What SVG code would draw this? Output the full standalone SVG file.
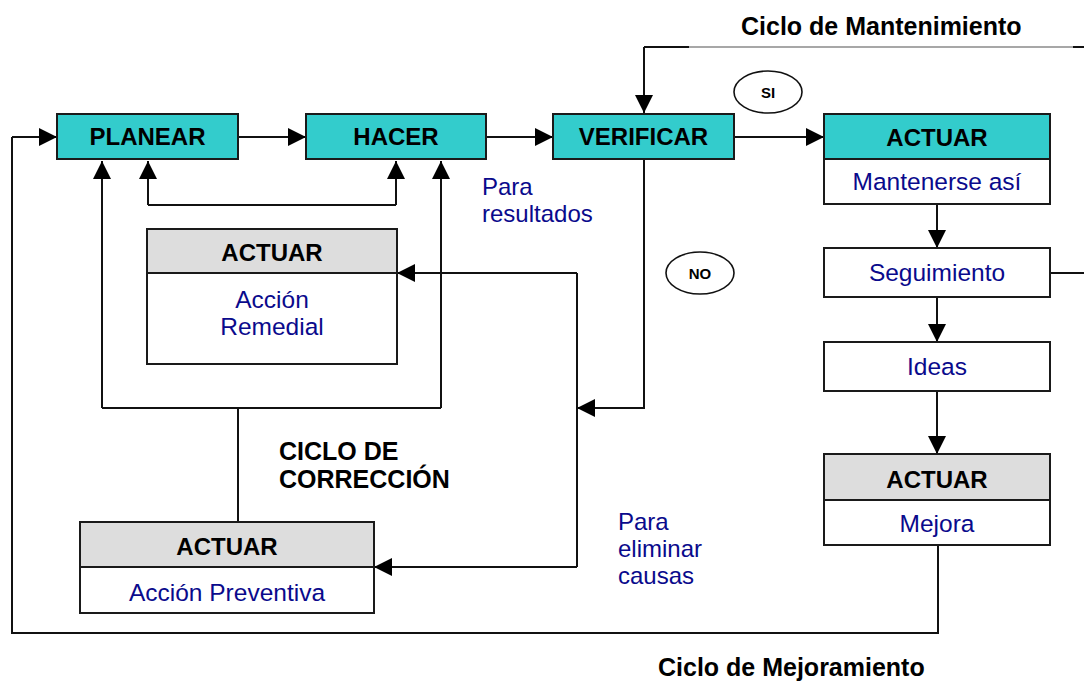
<svg xmlns="http://www.w3.org/2000/svg" width="1084" height="683" viewBox="0 0 1084 683">
<style>
.teal{fill:#33CCCC;stroke:#1a1a1a;stroke-width:2}
.gray{fill:#DDDDDD;stroke:#1a1a1a;stroke-width:2}
.white{fill:#FFFFFF;stroke:#1a1a1a;stroke-width:2}
.lbl{font-family:"Liberation Sans",Arial,sans-serif;font-size:24px;font-weight:bold;fill:#000;text-anchor:middle}
.blue{font-family:"Liberation Sans",Arial,sans-serif;font-size:24.5px;fill:#0a0a8c;text-anchor:middle}
.bluel{font-family:"Liberation Sans",Arial,sans-serif;font-size:24px;fill:#0a0a8c}
.title{font-family:"Liberation Sans",Arial,sans-serif;font-size:25px;font-weight:bold;fill:#000}
.small{font-family:"Liberation Sans",Arial,sans-serif;font-size:15px;font-weight:bold;fill:#000;text-anchor:middle}
.ln{fill:none;stroke:#111;stroke-width:2}
.arr{fill:none;stroke:#111;stroke-width:2;marker-end:url(#ah)}
</style>
<defs>
<marker id="ah" markerWidth="18" markerHeight="18" refX="18" refY="9" orient="auto" markerUnits="userSpaceOnUse">
<path d="M0,0 L18,9 L0,18 Z" fill="#000"/>
</marker>
</defs>
<rect width="1084" height="683" fill="#fff"/>

<g id="connectors">
<line class="arr" x1="238" y1="137" x2="306" y2="137"/>
<line class="arr" x1="486" y1="137" x2="553" y2="137"/>
<line class="arr" x1="734" y1="137" x2="824" y2="137"/>
<polyline class="ln" points="938,545 938,633 12,633 12,137"/>
<line class="arr" x1="12" y1="137" x2="57" y2="137"/>
<polyline class="ln" points="148,205 396,205"/>
<line class="arr" x1="148" y1="205" x2="148" y2="161"/>
<line class="arr" x1="396" y1="205" x2="396" y2="161"/>
<polyline class="ln" points="102,408 441,408"/>
<line class="arr" x1="102" y1="408" x2="102" y2="161"/>
<line class="arr" x1="441" y1="408" x2="441" y2="161"/>
<line class="ln" x1="238" y1="408" x2="238" y2="522"/>
<polyline class="ln" points="644,159 644,408 596,408"/>
<line class="arr" x1="644" y1="408" x2="577" y2="408"/>
<line class="ln" x1="577" y1="273" x2="577" y2="567"/>
<line class="arr" x1="577" y1="273" x2="397" y2="273"/>
<line class="arr" x1="577" y1="567" x2="374" y2="567"/>
<line class="ln" x1="644" y1="47" x2="689" y2="47"/>
<line x1="689" y1="47" x2="1073" y2="47" stroke="#8a8a8a" stroke-width="1.5"/>
<line class="ln" x1="1073" y1="47" x2="1084" y2="47"/>
<line class="arr" x1="644" y1="47" x2="644" y2="113"/>
<line class="ln" x1="1050" y1="273" x2="1084" y2="273"/>
<line class="arr" x1="937" y1="205" x2="937" y2="248"/>
<line class="arr" x1="937" y1="297" x2="937" y2="342"/>
<line class="arr" x1="937" y1="391" x2="937" y2="454"/>
</g>

<g id="planear">
<rect class="teal" x="57" y="114" width="181" height="45"/>
<text class="lbl" x="147.5" y="145">PLANEAR</text>
</g>
<g id="hacer">
<rect class="teal" x="306" y="114" width="180" height="45"/>
<text class="lbl" x="396" y="145">HACER</text>
</g>
<g id="verificar">
<rect class="teal" x="553" y="114" width="181" height="45"/>
<text class="lbl" x="643.5" y="145">VERIFICAR</text>
</g>
<g id="actuar-mantener">
<rect class="white" x="824" y="114" width="226" height="90"/>
<rect class="teal" x="824" y="114" width="226" height="45"/>
<text class="lbl" x="937" y="146">ACTUAR</text>
<text class="blue" x="937" y="190">Mantenerse así</text>
</g>
<g id="seguimiento">
<rect class="white" x="824" y="248" width="226" height="49"/>
<text class="blue" x="937" y="281">Seguimiento</text>
</g>
<g id="ideas">
<rect class="white" x="824" y="342" width="226" height="49"/>
<text class="blue" x="937" y="375">Ideas</text>
</g>
<g id="actuar-mejora">
<rect class="white" x="824" y="454" width="226" height="91"/>
<rect class="gray" x="824" y="454" width="226" height="46"/>
<text class="lbl" x="937" y="488">ACTUAR</text>
<text class="blue" x="937" y="532">Mejora</text>
</g>
<g id="actuar-remedial">
<rect class="white" x="147" y="229" width="250" height="135"/>
<rect class="gray" x="147" y="229" width="250" height="44"/>
<text class="lbl" x="272" y="261">ACTUAR</text>
<text class="blue" x="272" y="308">Acción</text>
<text class="blue" x="272" y="335">Remedial</text>
</g>
<g id="actuar-preventiva">
<rect class="white" x="80" y="522" width="294" height="91"/>
<rect class="gray" x="80" y="522" width="294" height="45"/>
<text class="lbl" x="227" y="555">ACTUAR</text>
<text class="blue" x="227" y="601">Acción Preventiva</text>
</g>
<g id="si">
<ellipse cx="768" cy="92" rx="34" ry="21" fill="#fff" stroke="#111" stroke-width="1.6"/>
<text class="small" x="768" y="98">SI</text>
</g>
<g id="no">
<ellipse cx="700" cy="273" rx="34" ry="21" fill="#fff" stroke="#111" stroke-width="1.6"/>
<text class="small" x="700" y="279">NO</text>
</g>
<g id="labels">
<text class="title" x="741" y="35">Ciclo de Mantenimiento</text>
<text class="title" x="658" y="676">Ciclo de Mejoramiento</text>
<text class="title" x="279" y="460">CICLO DE</text>
<text class="title" x="279" y="488">CORRECCIÓN</text>
<text class="bluel" x="482" y="195">Para</text>
<text class="bluel" x="482" y="222">resultados</text>
<text class="bluel" x="618" y="530">Para</text>
<text class="bluel" x="618" y="557">eliminar</text>
<text class="bluel" x="618" y="584">causas</text>
</g>
</svg>
